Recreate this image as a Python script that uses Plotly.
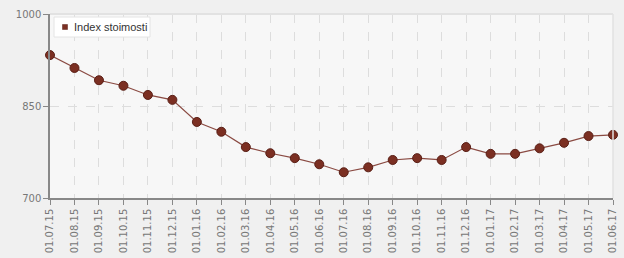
import plotly.graph_objects as go

dates = ["01.07.15", "01.08.15", "01.09.15", "01.10.15", "01.11.15", "01.12.15",
         "01.01.16", "01.02.16", "01.03.16", "01.04.16", "01.05.16", "01.06.16",
         "01.07.16", "01.08.16", "01.09.16", "01.10.16", "01.11.16", "01.12.16",
         "01.01.17", "01.02.17", "01.03.17", "01.04.17", "01.05.17", "01.06.17"]
index_values = [933, 912, 892, 883, 868, 860, 824, 808, 783, 773, 765, 755,
                742, 750, 762, 765, 762, 783, 772, 772, 781, 790, 801, 803]
y_ticks = [700, 850, 1000]
series_name = "Index stoimosti"

W, H = 624, 258
ML, MR, MT, MB = 50, 11, 14, 60
PW, PH = W - ML - MR, H - MT - MB


def px(x):
    return (x - ML) / PW


def py(y):
    return 1 - (y - MT) / PH


fig = go.Figure()
fig.add_trace(go.Scatter(
    x=dates, y=index_values, mode="lines+markers", name=series_name,
    line=dict(color="#8a4a42", width=1.2),
    marker=dict(color="#7b2f22", size=9, line=dict(color="#5a1f16", width=1)),
    cliponaxis=False, showlegend=False,
))

fig.update_layout(
    width=W, height=H,
    margin=dict(l=ML, r=MR, t=MT, b=MB),
    paper_bgcolor="#f0f0f0",
    plot_bgcolor="#f7f7f7",
    font=dict(family="DejaVu Sans, Arial, sans-serif", size=10, color="#777777"),
    showlegend=False,
)
fig.update_xaxes(
    type="category", range=[0, len(dates) - 1], automargin=False,
    tickangle=-90, ticks="outside", ticklen=5, tickcolor="#888888",
    showline=True, linecolor="#888888", linewidth=1.5,
    showgrid=True, gridcolor="#dddddd", griddash="dash", gridwidth=1,
    tickfont=dict(size=10, color="#777777"),
)
fig.update_yaxes(
    range=[700, 1000], tickvals=y_ticks, automargin=False,
    ticks="outside", ticklen=5, tickcolor="#888888",
    showline=True, linecolor="#888888", linewidth=1.5,
    showgrid=True, gridcolor="#dddddd", griddash="dash", gridwidth=1,
    zeroline=False,
    tickfont=dict(size=10, color="#777777"),
)
# faint top/right frame of plot area
fig.add_shape(type="line", xref="paper", yref="paper", x0=0, x1=1, y0=1, y1=1,
              line=dict(color="#e2e2e2", width=2))
fig.add_shape(type="line", xref="paper", yref="paper", x0=1, x1=1, y0=0, y1=1,
              line=dict(color="#e2e2e2", width=1.5))

# legend box (drawn manually to match the compact original)
fig.add_shape(type="rect", xref="paper", yref="paper",
              x0=px(54), x1=px(150), y0=py(37), y1=py(17),
              fillcolor="#ffffff", line=dict(color="#e4e4e4", width=1), layer="above")
fig.add_shape(type="rect", xref="paper", yref="paper",
              x0=px(62.5), x1=px(67.5), y0=py(29.5), y1=py(24.5),
              fillcolor="#7b2f22", line=dict(color="#5a1f16", width=0.5), layer="above")
fig.add_annotation(xref="paper", yref="paper", x=px(72), y=py(27),
                   xanchor="left", yanchor="middle", showarrow=False,
                   text=series_name,
                   font=dict(family="Liberation Sans, Arial, sans-serif", size=11, color="#333333"))

fig.write_html("out.html")
